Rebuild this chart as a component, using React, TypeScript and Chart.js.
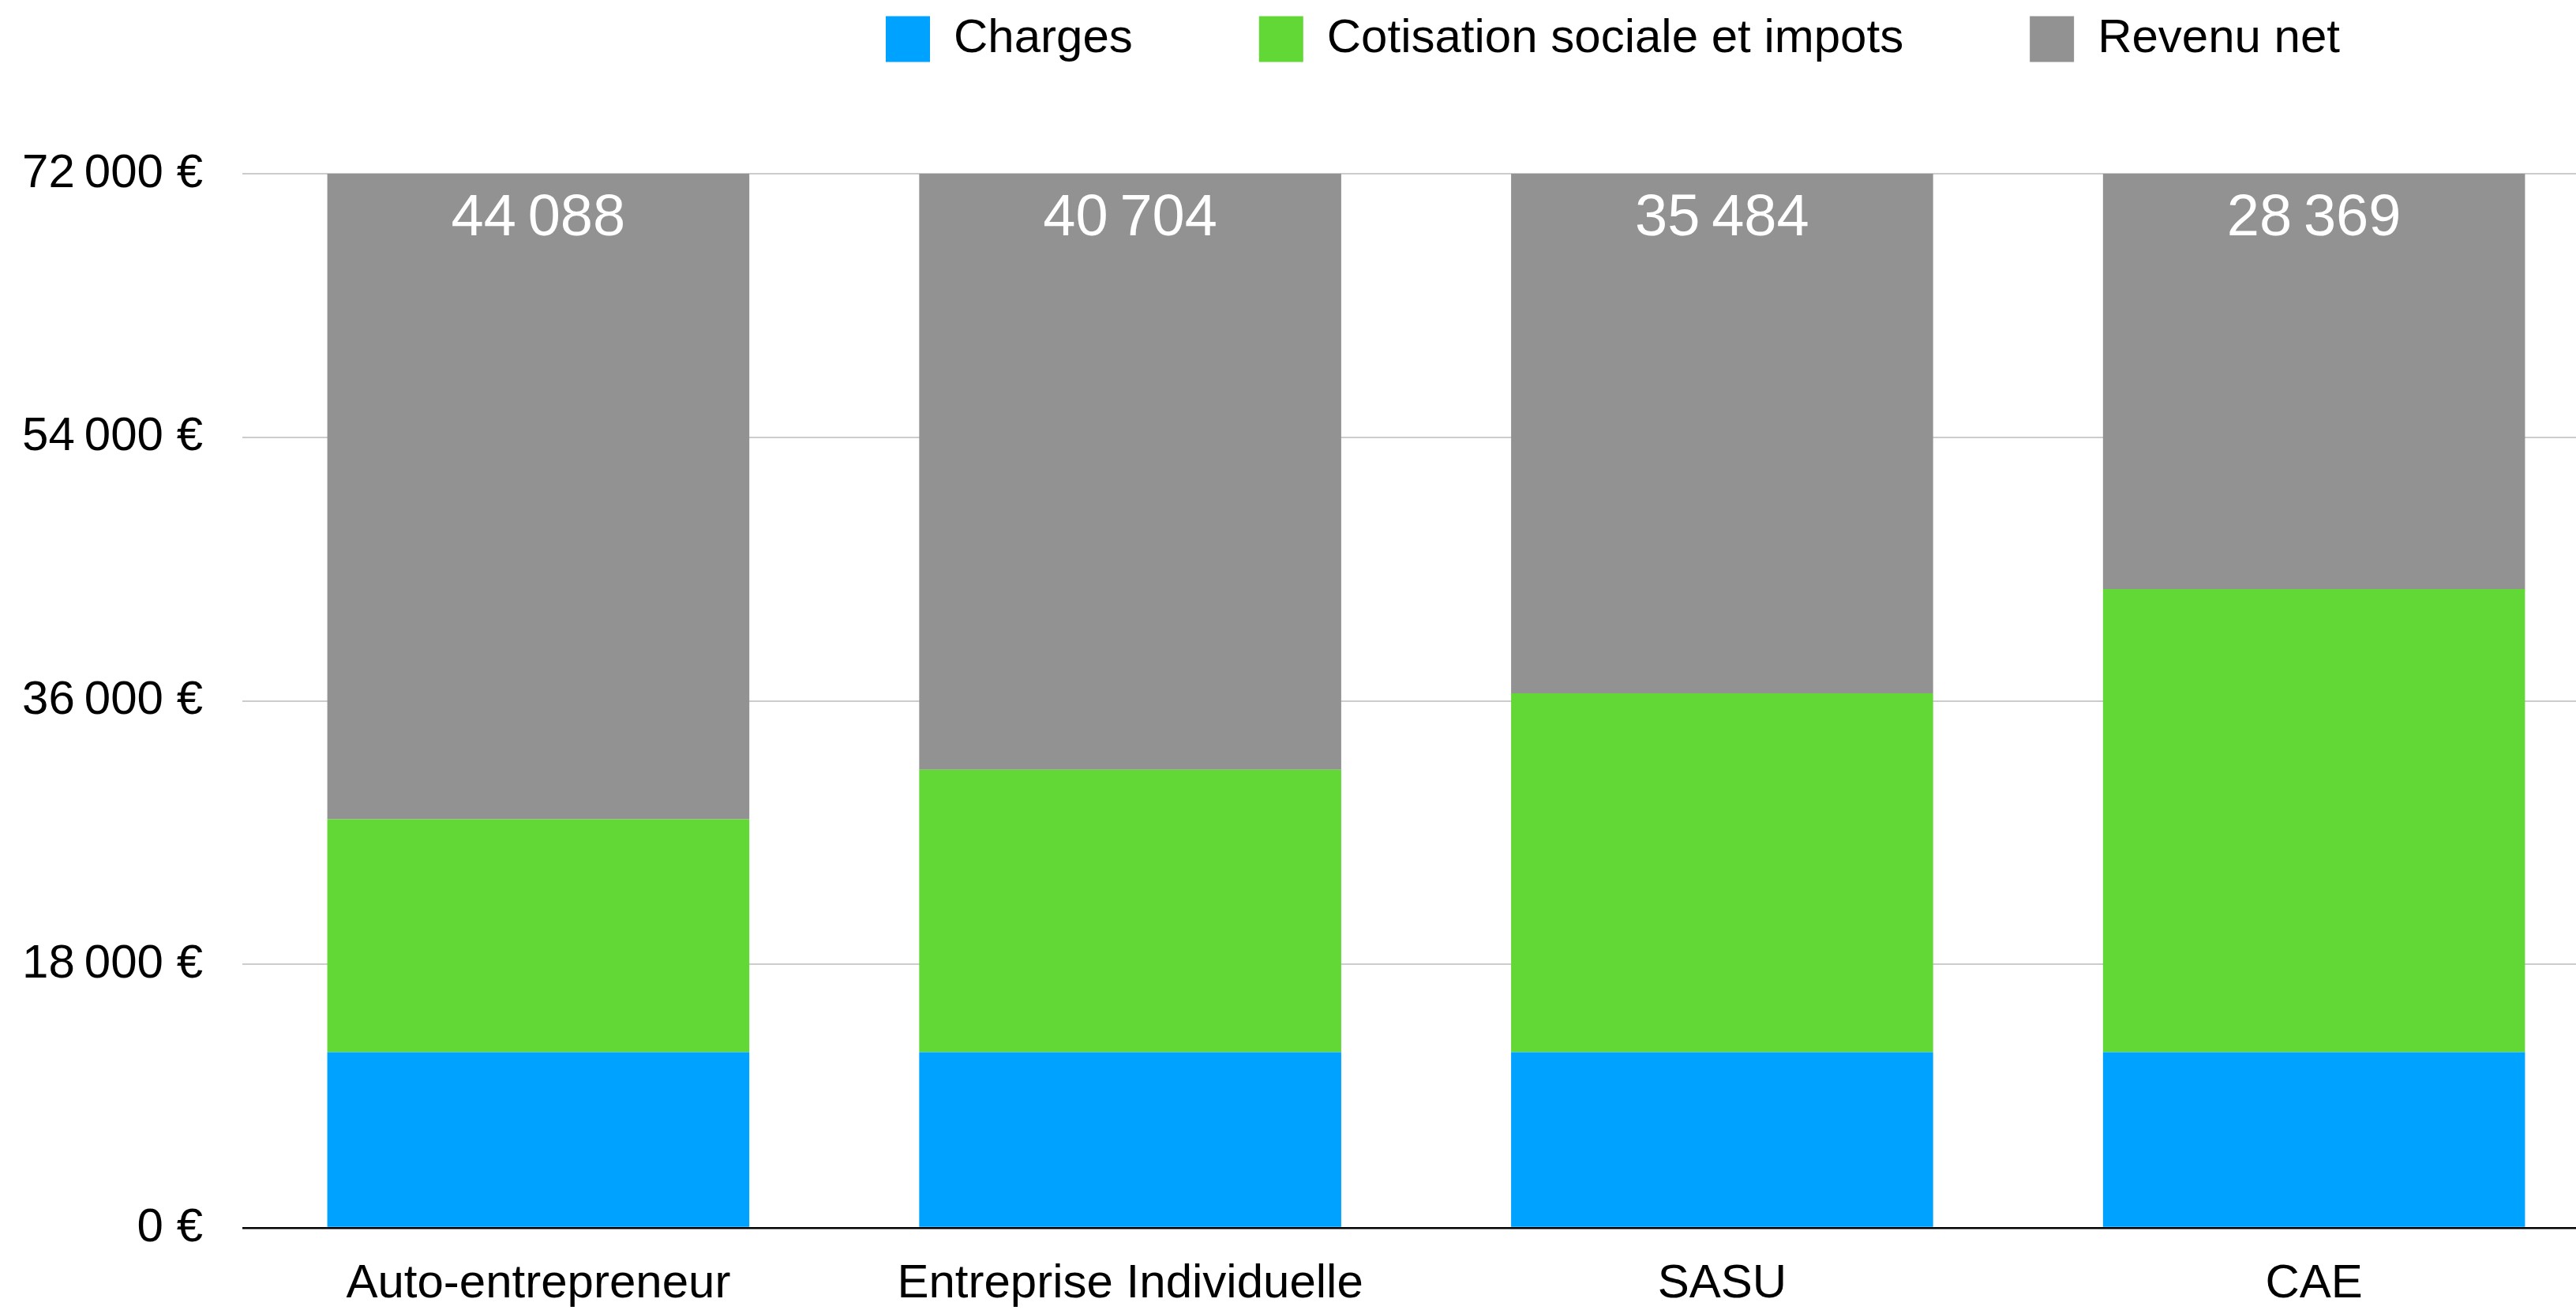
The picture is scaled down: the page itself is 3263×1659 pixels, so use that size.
import React, { useEffect, useRef } from 'react';
import { Chart, registerables } from 'chart.js';

Chart.register(...registerables);

// ---- data ----
const categories = ['Auto-entrepreneur', 'Entreprise Individuelle', 'SASU', 'CAE'];
const charges = [12000, 12000, 12000, 12000];
const cotisations = [15912, 19296, 24516, 31631];
const revenuNet = [44088, 40704, 35484, 28369];
const seriesNames = ['Charges', 'Cotisation sociale et impots', 'Revenu net'];
const seriesColors = ['#00A2FF', '#61D836', '#929292'];
const yTicks = [0, 18000, 36000, 54000, 72000];

const FONT = "'Liberation Sans', Arial, Helvetica, sans-serif";
const fmt = (v: number) => Math.round(v).toLocaleString('fr-FR');

const LEGEND_PAD = 160;
const LEGEND_X = 1122;
const LEGEND_Y = 19.5;

const legendPlacer = {
  id: 'legendPlacer',
  afterLayout(chart: any) {
    const lg = chart.legend;
    if (!lg) return;
    const h = lg.height;
    lg.top = LEGEND_Y - LEGEND_PAD;
    lg.bottom = lg.top + h;
    lg.left = LEGEND_X - LEGEND_PAD;
    lg.right = chart.width;
    lg.width = lg.right - lg.left;
  },
};

const barValueLabels = {
  id: 'barValueLabels',
  afterDatasetsDraw(chart: any) {
    const ctx = chart.ctx;
    const meta = chart.getDatasetMeta(2);
    const data = chart.data.datasets[2].data as number[];
    ctx.save();
    ctx.font = `74px ${FONT}`;
    ctx.fillStyle = '#ffffff';
    ctx.textAlign = 'center';
    ctx.textBaseline = 'alphabetic';
    meta.data.forEach((el: any, i: number) => {
      ctx.fillText(fmt(data[i]), el.x, el.y + 78);
    });
    ctx.restore();
  },
};

export default function App() {
  const canvasRef = useRef<HTMLCanvasElement | null>(null);

  useEffect(() => {
    if (!canvasRef.current) return;
    const chart = new Chart(canvasRef.current, {
      type: 'bar',
      data: {
        labels: categories,
        datasets: [
          { label: seriesNames[0], data: charges, backgroundColor: seriesColors[0], borderWidth: 0 },
          { label: seriesNames[1], data: cotisations, backgroundColor: seriesColors[1], borderWidth: 0 },
          { label: seriesNames[2], data: revenuNet, backgroundColor: seriesColors[2], borderWidth: 0 },
        ],
      },
      options: {
        responsive: false,
        devicePixelRatio: 1,
        animation: false,
        layout: { padding: 0 },
        datasets: {
          bar: { categoryPercentage: 1, barPercentage: 0.713 },
        },
        plugins: {
          tooltip: { enabled: false },
          legend: {
            display: true,
            position: 'top',
            align: 'start',
            maxHeight: 220,
            labels: {
              boxWidth: 56,
              boxHeight: 58,
              padding: LEGEND_PAD,
              color: '#000000',
              font: { family: FONT, size: 60 },
            },
          },
        },
        scales: {
          x: {
            stacked: true,
            grid: { display: false, drawTicks: false },
            border: { display: false },
            ticks: {
              color: '#000000',
              font: { family: FONT, size: 60 },
              padding: 35,
              maxRotation: 0,
              autoSkip: false,
            },
            afterFit: (s: any) => {
              s.height = 104;
            },
          },
          y: {
            stacked: true,
            min: yTicks[0],
            max: yTicks[yTicks.length - 1],
            grid: {
              drawTicks: false,
              color: (c: any) => (c.tick && c.tick.value === 0 ? '#000000' : '#cccccc'),
              lineWidth: (c: any) => (c.tick && c.tick.value === 0 ? 2.5 : 2),
            },
            border: { display: false },
            ticks: {
              stepSize: yTicks[1] - yTicks[0],
              color: '#000000',
              font: { family: FONT, size: 60 },
              padding: 50,
              callback: (v: any) => `${fmt(Number(v))} €`,
            },
            afterFit: (s: any) => {
              s.width = 307;
            },
          },
        },
      },
      plugins: [legendPlacer, barValueLabels],
    });
    return () => chart.destroy();
  }, []);

  return (
    <div
      style={{
        position: 'fixed',
        left: 0,
        top: 0,
        width: '3263px',
        height: '1659px',
        overflow: 'hidden',
        background: '#ffffff',
      }}
    >
      <canvas
        ref={canvasRef}
        width={3306}
        height={1659}
        style={{ width: '3306px', height: '1659px', display: 'block' }}
      />
    </div>
  );
}
